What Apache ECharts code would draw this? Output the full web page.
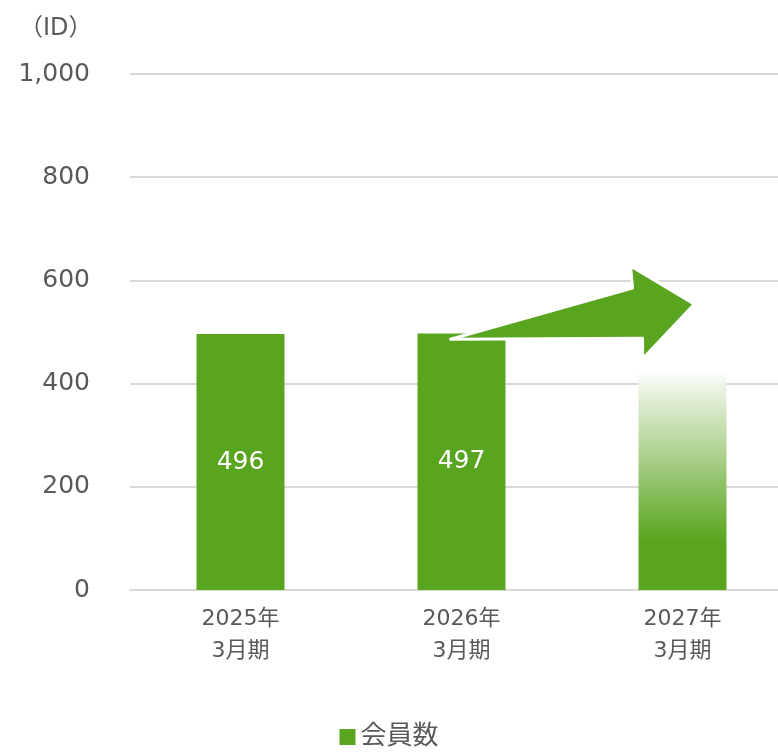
<!DOCTYPE html>
<html>
<head>
<meta charset="utf-8">
<script src="https://cdn.jsdelivr.net/npm/echarts@6/dist/echarts.min.js"></script>
<style>
  html, body { margin: 0; padding: 0; background: #fff; }
  #chart { width: 778px; height: 752px; }
</style>
</head>
<body>
<div id="chart"></div>
<script>
var categories = ['2025年\n3月期', '2026年\n3月期', '2027年\n3月期'];
var members = [496, 497, 436];
var yTicks = [0, 200, 400, 600, 800, 1000];

// arrow outline: [category index, offset in band widths, value]
var arrowPoints = [
    [1, -0.05, 486],
    [2, -0.226, 585],
    [2, -0.235, 628],
    [2, 0.054, 554],
    [2, -0.18, 448],
    [2, -0.181, 488]
];

var green = '#5aa51f';
var textColor = '#595959';
var font = '"DejaVu Sans", "Noto Sans CJK JP", sans-serif';

var chart = echarts.init(document.getElementById('chart'));

var barData = members.map(function (v, i) {
    if (i < 2) return v;
    return {
        value: v,
        itemStyle: {
            color: new echarts.graphic.LinearGradient(0, 0, 0, 1, [
                { offset: 0, color: 'rgba(255,255,255,0)' },
                { offset: 0.08, color: 'rgba(240,246,234,1)' },
                { offset: 0.78, color: green },
                { offset: 1, color: green }
            ])
        },
        label: { show: false }
    };
});

chart.setOption({
    animation: false,
    title: {
        text: '（ID）',
        left: 14,
        top: 12,
        textStyle: { color: textColor, fontSize: 24, fontWeight: 'normal', fontFamily: font }
    },
    legend: {
        bottom: -3,
        left: 'center',
        itemWidth: 16,
        itemHeight: 16,
        itemGap: 10,
        icon: 'rect',
        textStyle: { color: textColor, fontSize: 26, fontFamily: font },
        data: [{ name: '会員数', itemStyle: { color: green } }]
    },
    grid: { left: 130, width: 663, top: 74, bottom: 162, outerBoundsMode: 'none', containLabel: false },
    xAxis: {
        type: 'category',
        data: categories,
        axisTick: { show: false },
        axisLine: { lineStyle: { color: '#d9d9d9', width: 2 } },
        axisLabel: {
            color: textColor,
            fontSize: 22,
            lineHeight: 32,
            margin: 13,
            fontFamily: font
        }
    },
    yAxis: {
        type: 'value',
        min: yTicks[0],
        max: yTicks[yTicks.length - 1],
        interval: yTicks[1] - yTicks[0],
        axisLine: { show: false },
        axisTick: { show: false },
        splitLine: { lineStyle: { color: '#d9d9d9', width: 2 } },
        axisLabel: {
            color: textColor,
            fontSize: 25,
            margin: 40,
            fontFamily: font,
            formatter: function (v) { return v.toLocaleString('en-US'); }
        }
    },
    series: [{
        name: '会員数',
        type: 'bar',
        barWidth: 88,
        data: barData,
        itemStyle: { color: green },
        label: {
            show: true,
            position: 'inside',
            color: '#fff',
            fontSize: 25,
            fontFamily: font
        }
    }]
});

// arrow drawn from data positions
var c0 = chart.convertToPixel({ xAxisIndex: 0 }, 0);
var c1 = chart.convertToPixel({ xAxisIndex: 0 }, 1);
var band = c1 - c0;
var pts = arrowPoints.map(function (p) {
    var cx = chart.convertToPixel({ xAxisIndex: 0 }, p[0]);
    var y = chart.convertToPixel({ yAxisIndex: 0 }, p[2]);
    return [cx + p[1] * band, y];
});
chart.setOption({
    graphic: [{
        type: 'polygon',
        z: 100,
        shape: { points: pts },
        style: { fill: green, stroke: '#fff', lineWidth: 3, lineJoin: 'round' }
    }]
});
</script>
</body>
</html>
